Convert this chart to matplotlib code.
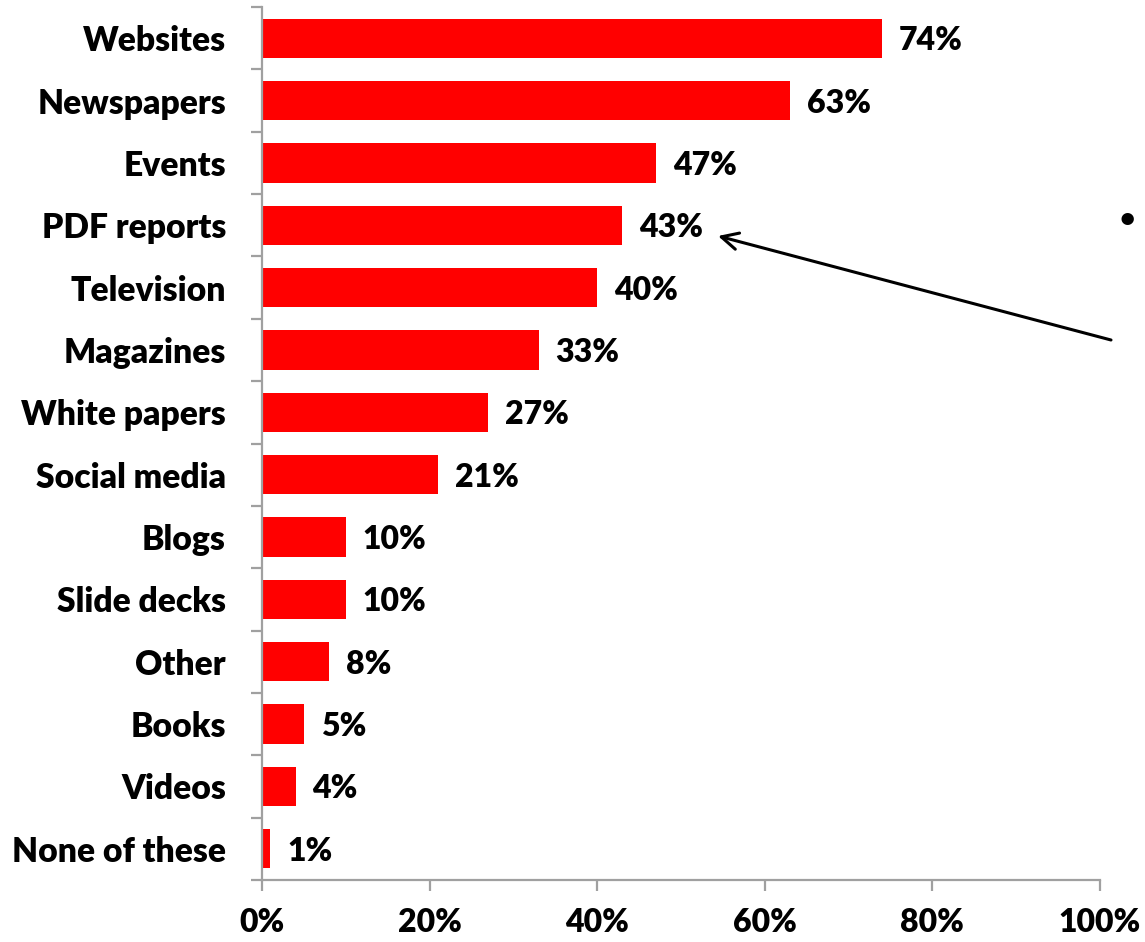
import matplotlib
matplotlib.use("Agg")
import matplotlib.pyplot as plt
from matplotlib.ticker import FixedLocator, FuncFormatter

categories = ["Websites", "Newspapers", "Events", "PDF reports", "Television",
              "Magazines", "White papers", "Social media", "Blogs", "Slide decks",
              "Other", "Books", "Videos", "None of these"]
values = [74, 63, 47, 43, 40, 33, 27, 21, 10, 10, 8, 5, 4, 1]
x_ticks = [0, 20, 40, 60, 80, 100]

FONT = "Lato"
WEIGHT = "heavy"
FS = 23
FS_CAT = 24.2
W, H = 1145, 942
fig = plt.figure(figsize=(W / 100, H / 100), dpi=100)
ax = fig.add_axes([262 / W, 1 - 880 / H, (1100 - 262) / W, (880 - 7) / H])

n = len(categories)
ypos = list(range(n))
ax.barh(ypos, values, height=0.63, color="#FF0000", zorder=2)
ax.set_ylim(n - 0.5, -0.5)
ax.set_xlim(0, 100)

for y, v in zip(ypos, values):
    ax.text(v + 2.0, y + 0.04, f"{v}%", va="center", ha="left", fontsize=FS,
            fontweight=WEIGHT, family=FONT, color="black")

axis_grey = "#A0A0A0"
for s in ["top", "right"]:
    ax.spines[s].set_visible(False)
for s in ["left", "bottom"]:
    ax.spines[s].set_color(axis_grey)
    ax.spines[s].set_linewidth(1.6)

ax.set_yticks(ypos)
ax.set_yticklabels(categories)
ax.yaxis.set_minor_locator(FixedLocator([i - 0.5 for i in range(n + 1)]))
ax.tick_params(axis="y", which="major", length=0, pad=26)
ax.tick_params(axis="y", which="minor", length=8, width=1.6, color=axis_grey)
for lab in ax.get_yticklabels():
    lab.set_fontsize(FS_CAT)
    lab.set_fontweight(WEIGHT)
    lab.set_family(FONT)

ax.set_xticks(x_ticks)
ax.xaxis.set_major_formatter(FuncFormatter(lambda v, p: f"{v:.0f}%"))
ax.tick_params(axis="x", which="major", length=8, width=1.6, color=axis_grey, pad=12)
for lab in ax.get_xticklabels():
    lab.set_fontsize(FS)
    lab.set_fontweight(WEIGHT)
    lab.set_family(FONT)

# Callout arrow pointing at the PDF reports value
ax.annotate("", xy=(718 / W, 1 - 236 / H), xycoords="figure fraction",
            xytext=(1111 / W, 1 - 340 / H), textcoords="figure fraction",
            arrowprops=dict(arrowstyle="->", color="black", lw=2.2,
                            mutation_scale=30, shrinkA=0, shrinkB=0))
fig.text(1127 / W, 1 - 220 / H, "\u2022", ha="center", va="center",
         fontsize=24, family=FONT, color="black")

fig.savefig("out.png", dpi=100)
